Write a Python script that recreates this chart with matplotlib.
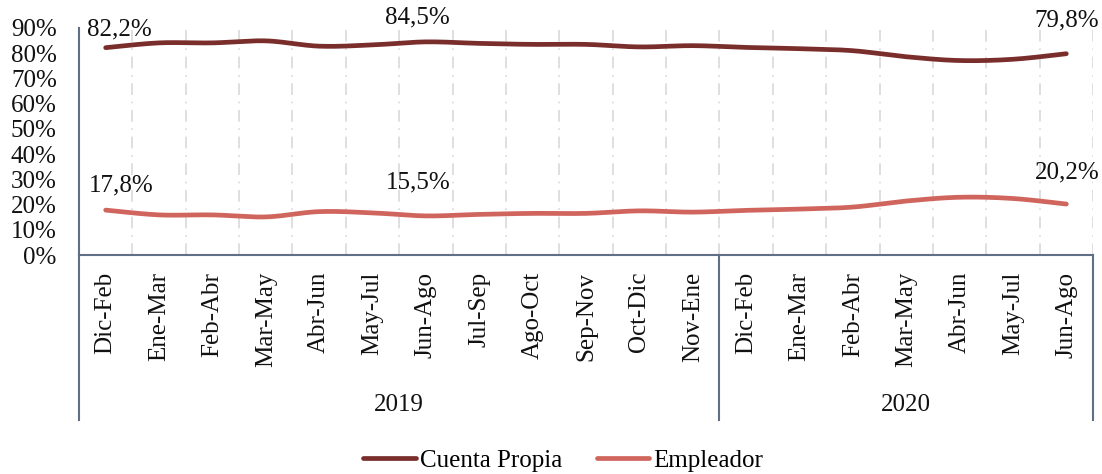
import numpy as np
import matplotlib
matplotlib.use("Agg")
import matplotlib.pyplot as plt
from matplotlib.transforms import blended_transform_factory

plt.rcParams['font.family'] = ['Liberation Serif', 'DejaVu Serif']

periods = ["Dic-Feb", "Ene-Mar", "Feb-Abr", "Mar-May", "Abr-Jun", "May-Jul",
           "Jun-Ago", "Jul-Sep", "Ago-Oct", "Sep-Nov", "Oct-Dic", "Nov-Ene",
           "Dic-Feb", "Ene-Mar", "Feb-Abr", "Mar-May", "Abr-Jun", "May-Jul",
           "Jun-Ago"]
years = ["2019", "2020"]
year_counts = [12, 7]
cuenta_propia = [82.2, 84.1, 84.1, 84.9, 82.8, 83.3, 84.5, 83.9, 83.5, 83.5,
                 82.5, 83.0, 82.3, 81.8, 81.0, 78.6, 77.1, 77.6, 79.8]
empleador = [17.8, 15.9, 15.9, 15.1, 17.2, 16.7, 15.5, 16.1, 16.5, 16.5,
             17.5, 17.0, 17.7, 18.2, 19.0, 21.4, 22.9, 22.4, 20.2]
labeled_idx = [0, 6, 18]
y_ticks = [0, 10, 20, 30, 40, 50, 60, 70, 80, 90]

c_cp = "#7A2E2B"
c_emp = "#D0655D"
spine_c = "#5F6F85"
FS = 18


def smooth(xs, ys, n=30):
    p = np.column_stack([xs, ys]).astype(float)
    out = []
    for i in range(len(p) - 1):
        p0 = p[i - 1] if i > 0 else p[i]
        p1 = p[i]
        p2 = p[i + 1]
        p3 = p[i + 2] if i + 2 < len(p) else p[i + 1]
        c1 = p1 + (p2 - p0) / 6
        c2 = p2 - (p3 - p1) / 6
        t = np.linspace(0, 1, n)[:, None]
        seg = ((1 - t) ** 3) * p1 + 3 * ((1 - t) ** 2) * t * c1 + 3 * (1 - t) * t ** 2 * c2 + t ** 3 * p2
        out.append(seg if i == 0 else seg[1:])
    s = np.vstack(out)
    return s[:, 0], s[:, 1]


fig = plt.figure(figsize=(11.02, 4.74), dpi=100)
ax = fig.add_axes([79 / 1102, 1 - 255 / 474, (1093 - 79) / 1102, (255 - 28) / 474])

x = np.arange(len(periods))
for vals, col, name in [(cuenta_propia, c_cp, "Cuenta Propia"), (empleador, c_emp, "Empleador")]:
    sx, sy = smooth(x, vals)
    ax.plot(sx, sy, color=col, lw=3.4, solid_capstyle='round', label=name, zorder=3)

ax.set_xlim(-0.5, len(periods) - 0.5)
ax.set_ylim(0, 90)
ax.set_yticks(y_ticks)
ax.set_yticklabels([f"{v}%" for v in y_ticks])
ax.set_xticks(x)
ax.set_xticklabels(periods, rotation=90, va='top', ha='center')
ax.set_xticks(np.arange(0.5, len(periods) - 0.4, 1), minor=True)
ax.tick_params(axis='x', which='both', length=0, pad=12, labelsize=FS, labelcolor='#111111')
ax.tick_params(axis='y', length=0, pad=16, labelsize=FS, labelcolor='#111111')
ax.grid(which='minor', axis='x', color='#D9D9D9', lw=1.2, ls=(0, (7, 4, 1, 4)))
ax.grid(which='major', visible=False)

for s in ['top', 'right']:
    ax.spines[s].set_visible(False)
for s in ['left', 'bottom']:
    ax.spines[s].set_color(spine_c)
    ax.spines[s].set_linewidth(1.5)

# data labels
offsets = {(0, 0): (14, 18), (0, 6): (-9, 24), (0, 18): (0, 33),
           (1, 0): (16, 25), (1, 6): (-8, 33), (1, 18): (1, 32)}
for si, vals in enumerate([cuenta_propia, empleador]):
    for i in labeled_idx:
        dx, dy = offsets[(si, i)]
        ax.annotate(f"{vals[i]:.1f}%".replace('.', ','), (x[i], vals[i]),
                    xytext=(dx * 0.72, dy * 0.72), textcoords='offset points',
                    ha='center', va='center', fontsize=FS, color='#111111')

# year grouping below axis
tr = blended_transform_factory(ax.transData, ax.transAxes)
ybot = -(420 - 255) / 227
bounds = [-0.5]
for c in year_counts:
    bounds.append(bounds[-1] + c)
for b in bounds:
    ax.plot([b, b], [0, ybot], transform=tr, color=spine_c, lw=1.5, clip_on=False)
yl = -(405 - 255) / 227
for i, yname in enumerate(years):
    ax.text((bounds[i] + bounds[i + 1]) / 2, yl, yname, transform=tr,
            ha='center', va='center', fontsize=FS, color='#111111')

fig.legend(loc='center', bbox_to_anchor=(0.511, 0.028), ncol=2, frameon=False,
           fontsize=FS, handlelength=2.1, handletextpad=0.15, columnspacing=1.4)

fig.savefig("out.png", dpi=100)
